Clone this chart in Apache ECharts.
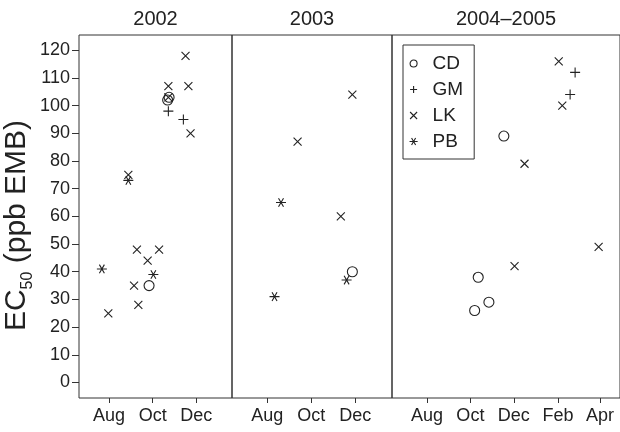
<!DOCTYPE html>
<html><head><meta charset="utf-8">
<script src="https://cdn.jsdelivr.net/npm/echarts@6/dist/echarts.min.js"></script>
<style>html,body{margin:0;padding:0;background:#fff}#c{width:620px;height:432px}</style>
</head><body><div id="c"></div>
<script>
// ---- data ----
const panelTitles = ['2002', '2003', '2004–2005'];
const panelStart = ['2002-06-20', '2003-06-13', '2004-06-13'];
const panelEnd   = ['2003-01-20', '2004-01-21', '2005-04-29'];
const tickDates = [
  ['2002-08-01', '2002-10-01', '2002-12-01'],
  ['2003-08-01', '2003-10-01', '2003-12-01'],
  ['2004-08-01', '2004-10-01', '2004-12-01', '2005-02-01', '2005-04-01']
];
const monthNames = ['Jan','Feb','Mar','Apr','May','Jun','Jul','Aug','Sep','Oct','Nov','Dec'];
const yTicks = [0, 10, 20, 30, 40, 50, 60, 70, 80, 90, 100, 110, 120];
const seriesNames = ['CD', 'GM', 'LK', 'PB'];

const cdDates  = ['2002-09-26', '2002-10-22', '2002-10-24', '2003-11-27', '2004-11-17', '2004-10-12', '2004-10-27', '2004-10-07'];
const cdValues = [35, 102, 103, 40, 89, 38, 29, 26];

const gmDates  = ['2002-10-23', '2002-11-13', '2005-02-25', '2005-02-18'];
const gmValues = [98, 95, 112, 104];

const lkDates  = ['2002-11-16', '2002-10-23', '2002-11-20', '2002-11-23', '2002-08-28', '2002-09-09', '2002-10-10', '2002-09-24', '2002-09-05', '2002-09-11', '2002-07-31', '2002-10-23',
                  '2003-11-27', '2003-09-12', '2003-11-11',
                  '2005-02-02', '2005-02-07', '2004-12-16', '2004-12-02', '2005-03-30'];
const lkValues = [118, 107, 107, 90, 75, 48, 48, 44, 35, 28, 25, 103,
                  104, 87, 60,
                  116, 100, 79, 42, 49];

const pbDates  = ['2002-08-28', '2002-07-22', '2002-10-02', '2003-08-20', '2003-11-19', '2003-08-11'];
const pbValues = [73, 41, 39, 65, 37, 31];

// ---- helpers ----
function day(s) { const p = s.split('-').map(Number); return Date.UTC(p[0], p[1] - 1, p[2]) / 864e5; }
function monthLabel(v) { return monthNames[new Date(Math.round(v) * 864e5).getUTCMonth()]; }
function panelOf(s) { const d = day(s); for (let i = 0; i < 3; i++) if (d >= day(panelStart[i]) && d <= day(panelEnd[i])) return i; return -1; }

const FONT = 'Liberation Sans, Arial, Helvetica, sans-serif';
const INK = '#222';
const symbols = {
  CD: 'circle',
  GM: 'path://M5,0V10M0,5H10',
  LK: 'path://M0,0L10,10M10,0L0,10',
  PB: 'path://M0,5H10M2.5,0.67L7.5,9.33M7.5,0.67L2.5,9.33'
};
const sizes = { CD: 10, GM: 10, LK: 8, PB: 10 };
const dataDates = { CD: cdDates, GM: gmDates, LK: lkDates, PB: pbDates };
const dataVals = { CD: cdValues, GM: gmValues, LK: lkValues, PB: pbValues };

const grids = [
  { left: 79, top: 35, width: 153, height: 363 },
  { left: 232, top: 35, width: 160, height: 363 },
  { left: 392, top: 35, width: 229, height: 363 }
].map(g => Object.assign(g, { show: true, borderColor: '#333', borderWidth: 1, backgroundColor: 'transparent', containLabel: false }));

const xAxes = [0, 1, 2].map(i => ({
  gridIndex: i, type: 'value', position: 'bottom',
  min: day(panelStart[i]), max: day(panelEnd[i]),
  axisLine: { show: false, onZero: false }, splitLine: { show: false },
  axisTick: { show: true, inside: false, length: 5, customValues: tickDates[i].map(day), lineStyle: { color: '#333' } },
  axisLabel: { customValues: tickDates[i].map(day), formatter: monthLabel, fontSize: 18, color: INK, fontFamily: FONT, margin: 9 }
}));

const yAxes = [0, 1, 2].map(i => ({
  gridIndex: i, type: 'value', position: 'left', min: -5.6, max: 125.5,
  axisLine: { show: false, onZero: false }, splitLine: { show: false },
  axisTick: { show: i === 0, inside: false, length: 7, customValues: yTicks, lineStyle: { color: '#333' } },
  axisLabel: { show: i === 0, customValues: yTicks, fontSize: 18, color: INK, fontFamily: FONT, margin: 9 },
  name: i === 0 ? '{a|EC}{s|50}{a| (ppb EMB)}' : '',
  nameLocation: 'middle', nameRotate: 90, nameGap: 37,
  nameTextStyle: {
    color: INK, fontFamily: FONT, padding: [0, 18, 0, 0],
    rich: {
      a: { fontSize: 30, fontFamily: FONT, color: INK, lineHeight: 33, verticalAlign: 'bottom' },
      s: { fontSize: 16, fontFamily: FONT, color: INK, lineHeight: 16, verticalAlign: 'bottom', padding: [0, 0, -4, 0] }
    }
  }
}));

const series = [];
seriesNames.forEach(name => {
  for (let i = 0; i < 3; i++) {
    const pts = [];
    dataDates[name].forEach((d, k) => { if (panelOf(d) === i) pts.push([day(d), dataVals[name][k]]); });
    series.push({
      name, type: 'scatter', xAxisIndex: i, yAxisIndex: i,
      symbol: symbols[name], symbolSize: sizes[name], symbolKeepAspect: true,
      itemStyle: { color: 'transparent', borderColor: INK, borderWidth: 1.1, opacity: 1 },
      emphasis: { disabled: true }, silent: true,
      data: pts
    });
  }
});

const option = {
  animation: false,
  backgroundColor: '#fff',
  grid: grids, xAxis: xAxes, yAxis: yAxes, series,
  legend: {
    data: seriesNames, orient: 'vertical', left: 403, top: 45,
    padding: [9, 11, 8, 6], borderColor: '#333', borderWidth: 1,
    itemWidth: 20, itemHeight: 7, itemGap: 7, selectedMode: false,
    itemStyle: { color: 'transparent', borderColor: INK, borderWidth: 1.1 },
    textStyle: { fontSize: 19, lineHeight: 18, color: INK, fontFamily: FONT, padding: [0, 0, 0, 4] }
  },
  graphic: panelTitles.map((t, i) => ({
    type: 'text', x: grids[i].left + Math.min(grids[i].width, 620 - grids[i].left) / 2, y: 19,
    style: { text: t, fontSize: 20, fontFamily: FONT, fill: INK, align: 'center', verticalAlign: 'middle' }
  }))
};
const chart = echarts.init(document.getElementById('c'), null, { renderer: 'canvas' });
chart.setOption(option);
</script></body></html>
